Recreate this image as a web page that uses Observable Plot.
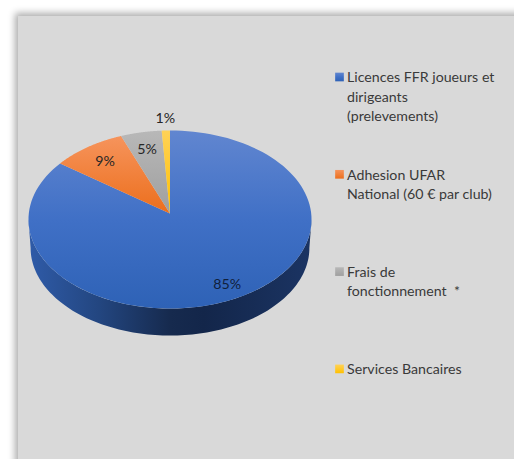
<!DOCTYPE html>
<html lang="fr">
<head>
<meta charset="utf-8">
<script src="https://cdn.jsdelivr.net/npm/d3@7"></script>
<script src="https://cdn.jsdelivr.net/npm/@observablehq/plot@0.6"></script>
<style>
html,body{margin:0;padding:0;background:#fff;overflow:hidden;width:514px;height:459px}
#panel{position:absolute;left:18px;top:16px;width:700px;height:700px;background:#d9d9d9;box-shadow:0 0 7px 3px #adadad}
#chart{position:absolute;left:0;top:0}
</style>
</head>
<body>
<div id="panel"></div>
<div id="chart"></div>
<script>
const categories = ["Licences FFR joueurs et\ndirigeants\n(prelevements)", "Adhesion UFAR\nNational (60 € par club)", "Frais de\nfonctionnement  *", "Services Bancaires"];
const values = [85, 9, 5, 1];
const percentLabels = ["85%", "9%", "5%", "1%"];
const colorsTop = ["#6186d0", "#f6945c", "#b8b8b8", "#ffd257"];
const colorsBottom = ["#2e62b6", "#ec6e1c", "#9f9f9f", "#ffc000"];

// Perspective of the tilted disc
const k = 0.0674, depth = 0.321, baseScale = 0.985;
const project = t => {
  const u = Math.sin(t), v = Math.cos(t), w = 1 + k * v;
  return {X: u / w, Y: v / w};
};
const arc = (a, b) => d3.range(0, 121).map(i => project(a + (b - a) * i / 120));
const pie = d3.pie().sort(null)(values);
const slices = pie.map(p => {
  const pts = arc(p.startAngle, p.endAngle);
  return [{X: 0, Y: 0}, ...pts, {X: 0, Y: 0}];
});
const t0 = Math.acos(-k);
const front = arc(t0, 2 * Math.PI - t0);
const wall = [...front, ...front.slice().reverse().map(d => ({X: d.X * baseScale, Y: d.Y * baseScale - depth}))];

const labelPoints = pie.map((p, i) => {
  const c = project((p.startAngle + p.endAngle) / 2);
  const f = values[i] < 2 ? 1.14 : values[i] > 50 ? 0.84 : 0.79;
  return {X: c.X * f, Y: c.Y * f, label: percentLabels[i], value: values[i]};
});

const defs = () => {
  const d = d3.create("svg:defs");
  colorsTop.forEach((c, i) => {
    const g = d.append("linearGradient").attr("id", "g" + i).attr("x1", 0).attr("x2", 0).attr("y1", 0).attr("y2", 1);
    g.append("stop").attr("offset", 0).attr("stop-color", c);
    g.append("stop").attr("offset", i === 0 ? 0.5 : 1).attr("stop-color", i === 0 ? "#4070c6" : colorsBottom[i]);
    if (i === 0) g.append("stop").attr("offset", 1).attr("stop-color", colorsBottom[0]);
  });
  const w = d.append("linearGradient").attr("id", "wallGrad").attr("x1", 0).attr("x2", 1).attr("y1", 0).attr("y2", 0);
  [[0, "#2f5ba8"], [0.25, "#234680"], [0.5, "#162a4e"], [0.62, "#13264a"], [1, "#1b3463"]]
    .forEach(([o, c]) => w.append("stop").attr("offset", o).attr("stop-color", c));
  return d.node();
};

const font = "Lato, Carlito, sans-serif";
const legendMarks = categories.flatMap((c, i) => {
  const top = 77 + 97.3 * i;
  return [
    Plot.dot([c], {frameAnchor: "top-left", dx: 339, dy: top - 0.5, symbol: "square", r: 4.9, fill: `url(#g${i})`, stroke: "none"}),
    Plot.text([c], {frameAnchor: "top-left", dx: 346.5, dy: top - 9, text: d => d, textAnchor: "start", lineAnchor: "top", lineHeight: 1.36, fontSize: 14.2, fill: "#3a3a3a"})
  ];
});

const chart = Plot.plot({
  width: 514, height: 459, margin: 0,
  style: {background: "transparent", fontFamily: font},
  x: {domain: [-1, 1], range: [169.5 - 141.2, 169.5 + 141.2], axis: null},
  y: {domain: [-1, 1], range: [213 + 88.6, 213 - 88.6], axis: null},
  marks: [
    defs,
    Plot.line(wall, {x: "X", y: "Y", fill: "url(#wallGrad)", stroke: "none"}),
    ...slices.map((s, i) => Plot.line(s, {x: "X", y: "Y", fill: `url(#g${i})`, stroke: "none"})),
    Plot.text(labelPoints, {x: "X", y: "Y", text: "label", fontSize: 14.2, fill: d => d.value > 50 ? "#10203c" : "#262626"}),
    ...legendMarks
  ]
});
document.getElementById("chart").appendChild(chart);
</script>
</body>
</html>
